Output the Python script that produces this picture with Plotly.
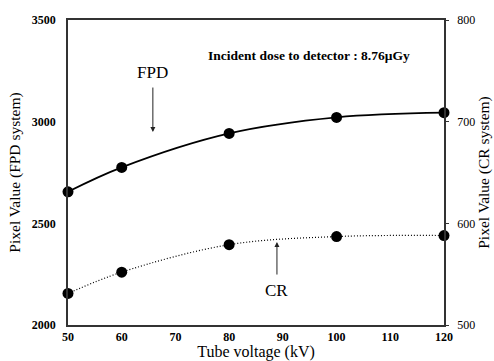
import plotly.graph_objects as go

kv = [50, 60, 80, 100, 120]
fpd = [2655, 2775, 2942, 3021, 3044]
cr = [531, 552, 579, 587, 588]
x_ticks = [50, 60, 70, 80, 90, 100, 110, 120]
left_ticks = [2000, 2500, 3000, 3500]
right_ticks = [500, 600, 700, 800]

FONT = "Times New Roman, Liberation Serif, DejaVu Serif, serif"

fig = go.Figure()
fig.add_trace(go.Scatter(x=kv, y=fpd, mode="lines+markers", line=dict(color="black", width=1.8, shape="spline"),
                         marker=dict(color="black", size=11), showlegend=False, cliponaxis=False))
fig.add_trace(go.Scatter(x=kv, y=cr, mode="lines+markers", yaxis="y2",
                         line=dict(color="black", width=1.2, dash="1px,2px", shape="spline"),
                         marker=dict(color="black", size=11), showlegend=False, cliponaxis=False))

fig.update_layout(
    template="none",
    width=494, height=361, margin=dict(l=68, r=50, t=20, b=36),
    paper_bgcolor="white", plot_bgcolor="white",
    font=dict(family=FONT, color="black"),
    xaxis=dict(range=[50, 120], tickvals=x_ticks, showgrid=False, zeroline=False, automargin=False,
               showline=True, linecolor="#333", linewidth=1.5, mirror=True, ticks="",
               tickfont=dict(size=12, weight="bold", family=FONT, color="black"),
               title=dict(text="Tube voltage (kV)", font=dict(size=16, family=FONT, color="black"), standoff=2)),
    yaxis=dict(range=[2000, 3500], tickvals=left_ticks, showgrid=False, zeroline=False, automargin=False,
               showline=True, linecolor="#333", linewidth=1.5, ticks="",
               tickfont=dict(size=12, weight="bold", family=FONT, color="black"), ticklabelstandoff=8,
               title=dict(text="Pixel Value (FPD system)", font=dict(size=15.5, family=FONT, color="black"), standoff=7)),
    yaxis2=dict(range=[500, 800], tickvals=right_ticks, overlaying="y", side="right", automargin=False,
                showgrid=False, zeroline=False, showline=True, linecolor="#333", linewidth=1.5,
                ticks="outside", ticklen=3, tickcolor="#333",
                tickfont=dict(size=12, family=FONT, color="black"), ticklabelstandoff=6,
                title=dict(text="Pixel Value (CR system)", font=dict(size=15.5, family=FONT, color="black"), standoff=2)),
    annotations=[
        dict(x=0.641, y=0.915, xref="paper", yref="paper", text="<b>Incident dose to detector : 8.76μGy</b>",
             showarrow=False, font=dict(size=13.5, family=FONT, color="black")),
        dict(x=65.8, y=3244, text="FPD", showarrow=False, font=dict(size=17, family=FONT, color="black")),
        dict(x=65.8, y=2949, ax=0, ay=-46, text="", showarrow=True, arrowhead=2, arrowsize=1,
             arrowwidth=1, arrowcolor="#222"),
        dict(x=88.9, y=2172, text="CR", showarrow=False, font=dict(size=17, family=FONT, color="black")),
        dict(x=88.9, y=2408, ax=0, ay=34, text="", showarrow=True, arrowhead=2, arrowsize=1,
             arrowwidth=1, arrowcolor="#222"),
    ],
)

fig.write_html("out.html")
